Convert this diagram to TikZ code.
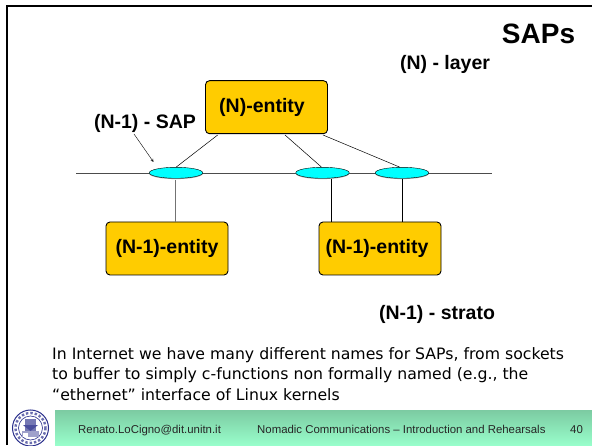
\documentclass[tikz,border=0pt]{standalone}
\usepackage{fontspec}
\usetikzlibrary{shapes.geometric}
\setmainfont{Liberation Sans}
\newfontfamily\notefont{DejaVu Sans}
\definecolor{E1}{HTML}{FFCC00}
\definecolor{S1}{HTML}{00FFFF}
\definecolor{B1}{HTML}{7CCBA2}
\definecolor{B2}{HTML}{99FFCC}
\definecolor{L1}{HTML}{2A2F8C}
\tikzset{
    entity/.style={draw,fill=E1,rounded corners=4pt,line width=.9pt,minimum width=122pt,minimum height=53pt,inner sep=0pt,font=\fontsize{19.5}{22}\selectfont\bfseries},
    sap/.style={draw,fill=S1,ellipse,line width=.4pt,minimum width=53.5pt,minimum height=11pt,inner sep=0pt},
    head/.style={font=\fontsize{19.5}{22}\selectfont\bfseries,inner sep=0pt},
    note/.style={font=\fontsize{15.7}{20}\notefont\selectfont,anchor=base west,inner sep=0pt},
    foot/.style={font=\fontsize{11.4}{13}\selectfont,anchor=base west,inner sep=0pt,text=black!85},
    wire/.style={line width=.5pt}
}
\begin{document}
\begin{tikzpicture}[x=1pt,y=-1pt]
    \useasboundingbox (0,0) rectangle (592,446);
    \fill [white] (0,0) rectangle (592,446);
    \draw [line width=2pt] (7,445)--(7,6.5)--(592,6.5);
    \node [head,font=\fontsize{28}{30}\selectfont\bfseries] (title) at (538.5,33.5) {SAPs};
    \node [head] (upper) at (445,64.5) {(N) - layer};
    \node [head] (saplabel) at (145,123.5) {(N-1) - SAP};
    \node [head] (lower) at (437,314.5) {(N-1) - strato};
    \coordinate (linel) at (76,173);
    \coordinate (liner) at (491.5,173);
    \draw [line width=.8pt,black!70] (linel)--(liner);
    \fill [black!35] (176,173.6) ellipse (26.8 and 5.5) (322.5,173.6) ellipse (26.8 and 5.5) (402,173.6) ellipse (26.8 and 5.5);
    \node [sap] (sapa) at (176,172.8) {};
    \node [sap] (sapb) at (322.5,172.8) {};
    \node [sap] (sapc) at (402,172.8) {};
    \node [entity] (nbox) at (266.5,107.2) {\hspace{-9pt}\raisebox{-6pt}{(N)-entity}};
    \node [entity] (eleft) at (167,248.5) {\raisebox{-3pt}{(N-1)-entity}};
    \node [entity] (eright) at (380,248.5) {\hspace{-6pt}\raisebox{-2.5pt}{(N-1)-entity}};
    \coordinate (na) at (217.7,135);
    \coordinate (nb) at (285,135);
    \coordinate (nc) at (323,135);
    \coordinate (sapend) at (153.5,162);
    \coordinate (sapstart) at (134,134);
    \coordinate (sb) at (331.3,179.5);
    \coordinate (sc) at (402.3,179.5);
    \coordinate (sa) at (175,180);
    \draw [wire] (na)--(sapa.88);
    \draw [wire] (nb)--(sapb.100);
    \draw [wire] (nc)--(sapc.112);
    \draw [line width=1pt,black!55] (sa)--(sa |- eleft.north);
    \draw [wire] (sb)--(sb |- eright.north);
    \draw [wire] (sc)--(sc |- eright.north);
    \draw [->,>=stealth,line width=.4pt] (sapstart)--(sapend);
    \node [note] (notea) at (52,360) {In Internet we have many different names for SAPs, from sockets};
    \node [note] (noteb) at (52,380) {to buffer to simply c-functions non formally named (e.g., the};
    \node [note] (notec) at (52,400) {“ethernet” interface of Linux kernels};
    \shade [top color=B1,bottom color=B2] (55,410) rectangle (592,446);
    \node [foot] (mail) at (78,433) {Renato.LoCigno@dit.unitn.it};
    \node [foot] (course) at (257,433) {Nomadic Communications – Introduction and Rehearsals};
    \node [foot] (page) at (570,433) {40};
    \fill [white] (30.5,428) circle (18.3);
    \draw [L1,line width=1pt] (30.5,428) circle (18);
    \draw [L1!70,line width=2.4pt,dotted] (30.5,428) circle (15);
    \draw [L1,line width=.6pt] (30.5,428) circle (12);
    \fill [L1!65] (25,419) rectangle (36,431);
    \fill [L1!85] (30.5,431) -- (23,425) -- (38,425) -- cycle;
    \fill [L1!45] (22,431) rectangle (39,437);
    \fill [white] (23,433) rectangle (28,437);
\end{tikzpicture}
\end{document}
